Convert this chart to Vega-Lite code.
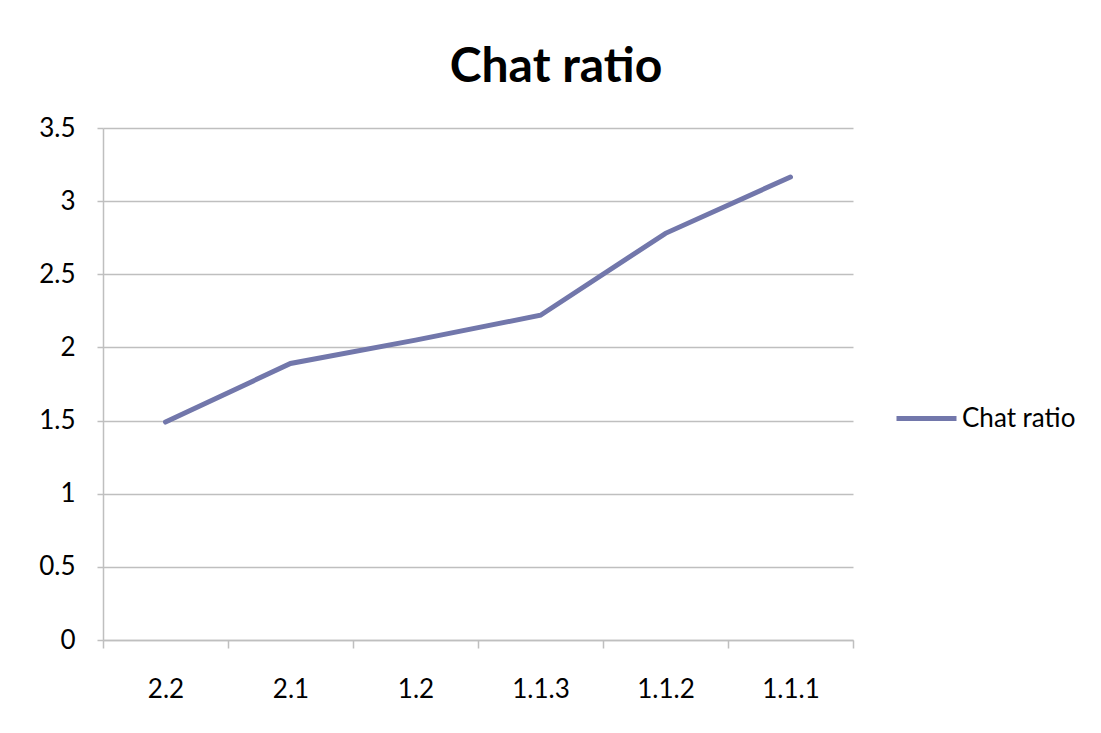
{
  "$schema": "https://vega.github.io/schema/vega-lite/v6.json",
  "autosize": {"type": "none"},
  "padding": {"left": 103, "top": 128, "right": 248, "bottom": 93},
  "width": 750,
  "height": 512,
  "background": "white",
  "title": {
    "text": "Chat ratio",
    "font": "Lato",
    "fontSize": 48,
    "fontWeight": "bold",
    "color": "black",
    "anchor": "middle",
    "frame": "group",
    "dx": 78,
    "offset": 23
  },
  "data": {
    "values": [
      {"version": "2.2", "series": "Chat ratio", "value": 1.49},
      {"version": "2.1", "series": "Chat ratio", "value": 1.89},
      {"version": "1.2", "series": "Chat ratio", "value": 2.05},
      {"version": "1.1.3", "series": "Chat ratio", "value": 2.22},
      {"version": "1.1.2", "series": "Chat ratio", "value": 2.78},
      {"version": "1.1.1", "series": "Chat ratio", "value": 3.165}
    ]
  },
  "mark": {"type": "line", "strokeWidth": 5, "strokeCap": "round"},
  "encoding": {
    "x": {
      "field": "version",
      "type": "ordinal",
      "sort": null,
      "bandPosition": 0.5,
      "scale": {"type": "band", "paddingInner": 0, "paddingOuter": 0},
      "axis": {
        "title": null,
        "labelAngle": 0,
        "tickBand": "extent",
        "tickSize": 8,
        "tickColor": "#bfbfbf",
        "tickWidth": 1.5,
        "domainColor": "#bfbfbf",
        "domainWidth": 1.5,
        "labelPadding": 28,
        "labelFont": "Lato",
        "labelFontSize": 26,
        "labelColor": "black",
        "grid": false
      }
    },
    "y": {
      "field": "value",
      "type": "quantitative",
      "scale": {"domain": [0, 3.5], "nice": false},
      "axis": {
        "title": null,
        "values": [0, 0.5, 1, 1.5, 2, 2.5, 3, 3.5],
        "format": "~g",
        "tickSize": 6,
        "tickColor": "#bfbfbf",
        "tickWidth": 1.5,
        "domainColor": "#bfbfbf",
        "domainWidth": 1.5,
        "gridColor": "#bfbfbf",
        "gridWidth": 1.5,
        "grid": true,
        "labelPadding": 22,
        "labelFont": "Lato",
        "labelFontSize": 26,
        "labelColor": "black"
      }
    },
    "color": {
      "field": "series",
      "type": "nominal",
      "scale": {"range": ["#7277ab"]},
      "legend": {
        "title": null,
        "orient": "none",
        "legendX": 791,
        "legendY": 258,
        "symbolType": "stroke",
        "symbolSize": 3600,
        "symbolStrokeWidth": 5,
        "labelFont": "Lato",
        "labelFontSize": 26,
        "labelColor": "black",
        "labelOffset": 3
      }
    }
  },
  "config": {"view": {"stroke": null}}
}
